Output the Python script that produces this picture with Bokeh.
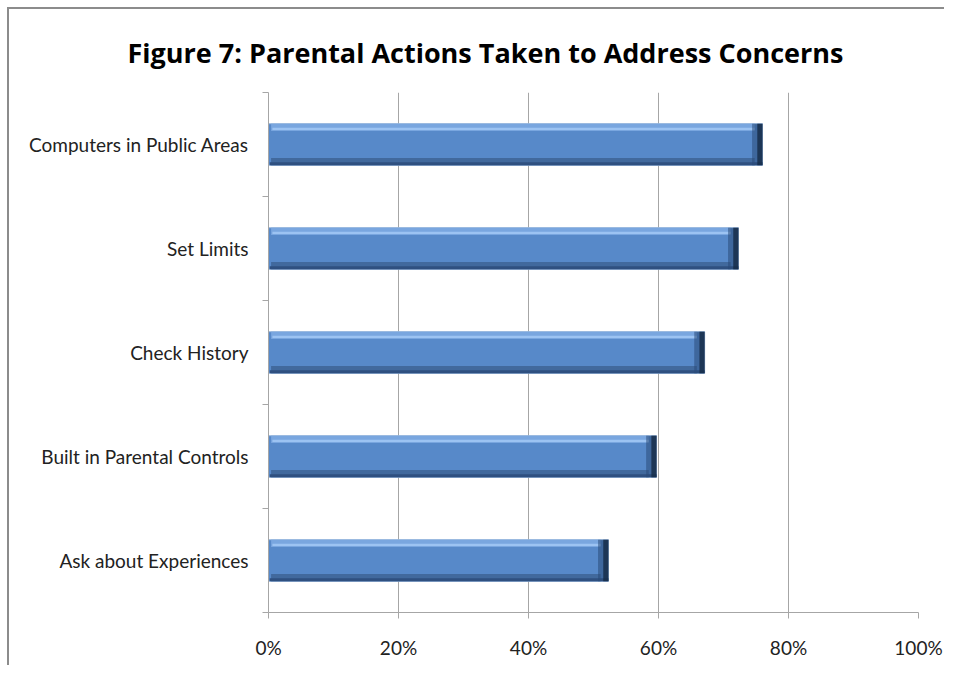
from bokeh.plotting import figure
from bokeh.models import FixedTicker, Range1d, ColumnDataSource
from bokeh.embed import file_html
from bokeh.resources import INLINE

categories = ["Ask about Experiences", "Built in Parental Controls", "Check History",
              "Set Limits", "Computers in Public Areas"]
values = [52.3, 59.7, 67.1, 72.3, 76.0]
x_ticks = [0, 20, 40, 60, 80, 100]
x_tick_labels = ["0%", "20%", "40%", "60%", "80%", "100%"]

FONT = "Lato"
idx = list(range(len(categories)))

p = figure(width=937, height=658, output_backend="svg", toolbar_location=None,
           x_range=Range1d(0, 100), y_range=Range1d(-0.5, len(categories) - 0.5),
           min_border_left=259, min_border_right=28, min_border_top=83, min_border_bottom=55)
p.margin = (7, 0, 0, 7)
p.styles = {"border-left": "2px solid #8c8c8c", "border-top": "2px solid #8c8c8c"}

p.title.text = "Figure 7: Parental Actions Taken to Address Concerns"
p.title.text_font = "Open Sans"
p.title.text_font_size = "27px"
p.title.text_font_style = "bold"
p.title.align = "left"
p.title.offset = -141
p.title.standoff = 44
p.title.text_color = "#000000"

src = ColumnDataSource(dict(
    y=idx, v=values,
    top_y=[i + 0.165 for i in idx], hl_y=[i + 0.15 for i in idx],
    bot_y=[i - 0.165 for i in idx], bot2_y=[i - 0.185 for i in idx],
    end1=[v - 1.6 for v in values], end2=[v - 0.8 for v in values],
    in_r=[v - 1.2 for v in values],
))

# main body
p.hbar(y="y", left=0, right="v", height=0.40, source=src,
       fill_color="#5789C9", line_color="#9db9dc", line_width=1)
# top bevel
p.hbar(y="top_y", left=0.4, right="in_r", height=0.07, source=src,
       fill_color="#79A6DF", line_color=None)
p.hbar(y="hl_y", left=0.6, right="in_r", height=0.02, source=src,
       fill_color="#9CC3F2", line_color=None)
# bottom bevel
p.hbar(y="bot_y", left=0.4, right="in_r", height=0.07, source=src,
       fill_color="#41699D", line_color=None)
p.hbar(y="bot2_y", left=0.2, right="v", height=0.03, source=src,
       fill_color="#2F5080", line_color=None)
# right end bevel
p.hbar(y="y", left="end1", right="v", height=0.40, source=src,
       fill_color="#2A4A78", fill_alpha=0.55, line_color=None)
p.hbar(y="y", left="end2", right="v", height=0.40, source=src,
       fill_color="#152A45", fill_alpha=0.8, line_color=None)

# x axis
p.xaxis.ticker = FixedTicker(ticks=x_ticks)
p.xaxis.major_label_overrides = {t: l for t, l in zip(x_ticks, x_tick_labels)}
p.xaxis.major_label_text_font = FONT
p.xaxis.major_label_text_font_size = "19px"
p.xaxis.major_label_text_color = "#222222"
p.xaxis.major_label_standoff = 17
p.xaxis.axis_line_color = "#a6a6a6"
p.xaxis.major_tick_line_color = "#a6a6a6"
p.xaxis.major_tick_out = 6
p.xaxis.major_tick_in = 0
p.xaxis.minor_tick_line_color = None

# y axis
p.yaxis.ticker = FixedTicker(ticks=idx, minor_ticks=[i - 0.5 for i in idx] + [len(idx) - 0.5])
p.yaxis.major_label_overrides = {i: c for i, c in zip(idx, categories)}
p.yaxis.major_label_text_font = FONT
p.yaxis.major_label_text_font_size = "19px"
p.yaxis.major_label_text_color = "#222222"
p.yaxis.major_label_standoff = 14
p.yaxis.major_tick_line_color = None
p.yaxis.axis_line_color = "#a6a6a6"
p.yaxis.minor_tick_line_color = "#a6a6a6"
p.yaxis.minor_tick_out = 6
p.yaxis.minor_tick_in = 0

p.xgrid.ticker = FixedTicker(ticks=x_ticks)
p.xgrid.grid_line_color = "#a6a6a6"
p.ygrid.grid_line_color = None
p.outline_line_color = None

open("out.html", "w").write(file_html(p, INLINE))
